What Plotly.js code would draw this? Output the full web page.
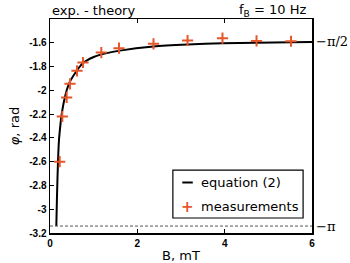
<!DOCTYPE html>
<html>
<head>
<meta charset="utf-8">
<script src="https://cdn.plot.ly/plotly-3.0.1.min.js"></script>
<style>html,body{margin:0;padding:0;background:#fff;}#chart{width:350px;height:263px;}</style>
</head>
<body>
<div id="chart"></div>
<script>
// Curve "equation (2)"
const curveB   = [0.145, 0.16, 0.183, 0.206, 0.23, 0.26, 0.336, 0.44, 0.60, 0.755, 1.0, 1.3, 1.6, 2.37, 3.15, 3.95, 4.73, 5.52, 6.0];
const curvePhi = [-3.1416, -2.89, -2.6, -2.416, -2.32, -2.22, -2.066, -1.94, -1.842, -1.771, -1.72, -1.687, -1.666, -1.632, -1.615, -1.604, -1.599, -1.595, -1.593];

// Measurements
const measB   = [0.222, 0.282, 0.382, 0.458, 0.618, 0.756, 1.175, 1.58, 2.37, 3.15, 3.95, 4.73, 5.52];
const measPhi = [-2.6, -2.22, -2.06, -1.945, -1.836, -1.766, -1.682, -1.645, -1.609, -1.581, -1.561, -1.584, -1.587];

const yTickVals = [-3.2, -3, -2.8, -2.6, -2.4, -2.2, -2, -1.8, -1.6];
const yTickText = ['-3.2', '-3', '-2.8', '-2.6', '-2.4', '-2.2', '-2', '-1.8', '-1.6'];
const xTickVals = [0, 2, 4, 6];
const xTickText = ['0', '2', '4', '6'];
const legendNames = ['equation (2)', 'measurements'];

const orange = '#e5572b';
const sans = 'DejaVu Sans, sans-serif';
const tickFont = {family: 'Liberation Sans, Arial, sans-serif', size: 10, color: '#000', weight: 'bold'};

const traces = [
  {x: curveB, y: curvePhi, mode: 'lines', name: legendNames[0], showlegend: false,
   line: {color: '#000', width: 2, shape: 'spline', smoothing: 0.6}},
  {x: measB, y: measPhi, mode: 'markers', name: legendNames[1], showlegend: false,
   marker: {symbol: 'cross-thin', size: 8, color: orange, line: {color: orange, width: 2}}}
];

// legend box (paper coordinates)
const lg = {x0: 0.469, x1: 0.966, y0: 0.070, y1: 0.294, row1: 0.236, row2: 0.123, sym: 0.525, txt: 0.567};

const layout = {
  width: 350, height: 263,
  margin: {l: 50, r: 38, t: 19, b: 30},
  paper_bgcolor: '#fff', plot_bgcolor: '#fff',
  showlegend: false,
  xaxis: {range: [0, 6], tickvals: xTickVals, ticktext: xTickText,
          ticks: 'inside', ticklen: 4, tickwidth: 1, tickcolor: '#000',
          showline: true, linecolor: '#000', linewidth: 1.5, mirror: 'ticks',
          showgrid: false, zeroline: false, tickfont: tickFont,
          title: {text: 'B, mT', font: {family: sans, size: 13, color: '#000'}, standoff: 4}},
  yaxis: {range: [-3.2, -1.4], tickvals: yTickVals, ticktext: yTickText,
          ticks: 'inside', ticklen: 4, tickwidth: 1, tickcolor: '#000',
          showline: true, linecolor: '#000', linewidth: 1.5, mirror: true,
          showgrid: false, zeroline: false, tickfont: tickFont,
          title: {text: '<i>φ</i>, rad', font: {family: sans, size: 13, color: '#000'}, standoff: 6}},
  shapes: [
    {type: 'line', xref: 'paper', x0: 0, x1: 1, yref: 'y', y0: -Math.PI, y1: -Math.PI,
     line: {color: '#555', width: 1, dash: '3px,2px'}},
    {type: 'rect', xref: 'paper', yref: 'paper', x0: lg.x0, x1: lg.x1, y0: lg.y0, y1: lg.y1,
     line: {color: '#000', width: 1.2}, fillcolor: '#fff'},
    {type: 'line', xref: 'paper', yref: 'paper', x0: lg.sym - 0.02, x1: lg.sym + 0.02, y0: lg.row1, y1: lg.row1,
     line: {color: '#000', width: 2}}
  ],
  annotations: [
    {xref: 'paper', yref: 'paper', x: 0, y: 1, xanchor: 'left', yanchor: 'bottom', yshift: -1,
     text: 'exp. - theory', showarrow: false, font: {family: sans, size: 13, color: '#000'}},
    {xref: 'paper', yref: 'paper', x: 0.985, y: 1, xanchor: 'right', yanchor: 'bottom', yshift: -2,
     text: 'f<sub>B</sub> = 10 Hz', showarrow: false, font: {family: sans, size: 13, color: '#000'}},
    {xref: 'paper', yref: 'y', x: 1, y: -1.592, xanchor: 'left', xshift: 2,
     text: '−π/2', showarrow: false, font: {family: 'DejaVu Serif, serif', size: 13, color: '#000'}},
    {xref: 'paper', yref: 'y', x: 1, y: -3.1416, xanchor: 'left', xshift: 2,
     text: '−π', showarrow: false, font: {family: 'DejaVu Serif, serif', size: 13, color: '#000'}},
    {xref: 'paper', yref: 'paper', x: lg.txt, y: lg.row1, xanchor: 'left', yanchor: 'middle',
     text: legendNames[0], showarrow: false, font: {family: sans, size: 13, color: '#000'}},
    {xref: 'paper', yref: 'paper', x: lg.sym, y: lg.row2, xanchor: 'center', yanchor: 'middle',
     text: '+', showarrow: false, font: {family: sans, size: 15, color: orange, weight: 'bold'}},
    {xref: 'paper', yref: 'paper', x: lg.txt, y: lg.row2, xanchor: 'left', yanchor: 'middle',
     text: legendNames[1], showarrow: false, font: {family: sans, size: 13, color: '#000'}}
  ]
};

Plotly.newPlot('chart', traces, layout, {staticPlot: true, displayModeBar: false});
</script>
</body>
</html>
